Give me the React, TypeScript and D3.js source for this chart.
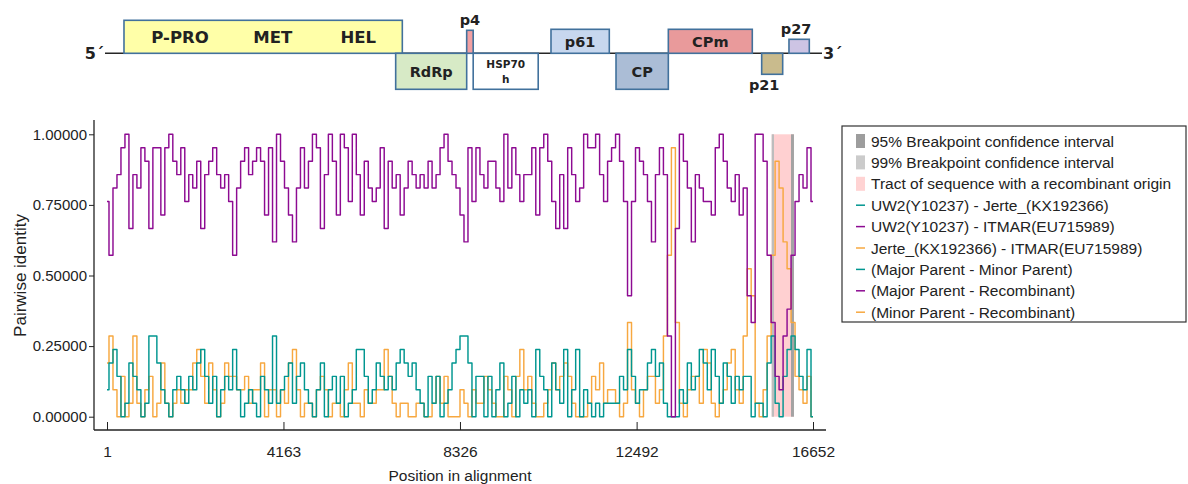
import React, {useEffect, useRef} from 'react';
import * as d3 from 'd3';

// identity values are read as k / windowSize (21 nt windows)
const windowSize = 21;
const alignmentStart = 1;
const alignmentEnd = 16652;
const xTicks = [1, 4163, 8326, 12492, 16652];
const yTicks = [0, 0.25, 0.5, 0.75, 1];

// UW2(Y10237) - Jerte_(KX192366)
const uw2Jerte = [
  2, 4, 5, 3, 0, 1, 4, 3, 2, 0,
  1, 6, 6, 4, 2, 1, 0, 2, 3, 2,
  1, 3, 2, 4, 5, 3, 1, 3, 0, 2,
  3, 2, 5, 2, 0, 1, 2, 1, 0, 3,
  2, 1, 6,
  1, 2, 3, 4, 1, 3, 4, 2, 1, 0,
  2, 4, 0, 2, 3, 1, 3, 0, 1, 2,
  5, 5, 3, 1, 2, 4, 3, 2, 3, 2,
  4, 5, 4, 3, 4, 2, 1, 0, 3, 1, 3, 0,
  1, 2, 4, 5, 6, 6, 4, 0, 3, 3,
  0, 3, 0, 2, 4, 0, 1, 3, 0, 2,
  1, 2, 0, 5, 3, 2, 0, 4, 2, 1,
  5, 0, 2, 5, 0, 2, 1, 0, 1, 0, 1, 1, 1,
  1, 3, 2, 5, 3, 1, 2, 2, 4, 5,
  3, 4, 1, 0, 0, 0, 2, 1, 4, 2,
  3, 5, 4, 2, 5, 3, 1, 4, 3, 1,
  3, 2, 3, 3, 0, 1, 1, 0, 4, 6,
  1, 0, 3, 5, 6, 5, 3, 2, 5, 0,
];

// UW2(Y10237) - ITMAR(EU715989)
const uw2Itmar = [
  16, 12, 17, 18, 20, 21, 14, 18, 17, 20,
  19, 14, 20, 20, 15, 20, 21, 19, 18, 20,
  16, 18, 17, 19, 14, 18, 19, 20, 18, 17,
  18, 16, 12, 17, 19, 20, 18, 19, 20, 19,
  15, 20, 13,
  21, 19, 17, 15, 13, 17, 20, 17, 19, 21,
  20, 14, 18, 21, 19, 15, 21, 20, 16, 21,
  18, 15, 19, 17, 16, 17, 20, 14, 19, 17,
  18, 15, 17, 19, 18, 17, 18, 17, 19, 17, 18, 20,
  21, 19, 18, 17, 15, 13, 20, 16, 20, 18,
  17, 19, 19, 17, 16, 21, 17, 20, 18, 16,
  18, 18, 20, 15, 20, 21, 19, 16, 14, 18,
  14, 20, 18, 16, 17, 21, 20, 20, 21, 18, 16, 19, 20,
  21, 19, 16, 9, 16, 20, 19, 18, 16, 13,
  18, 20, 18, 6, 0, 14, 21, 19, 17, 13,
  18, 17, 16, 16, 15, 20, 21, 19, 17, 16,
  18, 15, 17, 9, 7, 21, 21, 19, 12, 7,
  3, 2, 6, 8, 12, 16, 18, 17, 20, 16,
];

// Jerte_(KX192366) - ITMAR(EU715989)
const jerteItmar = [
  4, 6, 2, 0, 3, 0, 1, 6, 1, 0,
  2, 3, 0, 1, 4, 1, 0, 1, 2, 1,
  2, 2, 4, 5, 3, 1, 4, 2, 0, 1,
  4, 3, 3, 2, 2, 3, 1, 2, 2, 4,
  0, 2, 2,
  0, 2, 1, 4, 5, 2, 0, 1, 1, 0,
  2, 3, 2, 0, 1, 1, 0, 2, 4, 1,
  1, 0, 2, 1, 1, 2, 2, 5, 3, 1,
  0, 1, 1, 0, 0, 1, 1, 0, 0, 1, 3, 1,
  3, 0, 0, 0, 2, 1, 0, 2, 1, 1,
  3, 2, 1, 0, 0, 3, 2, 0, 3, 5,
  2, 3, 1, 0, 0, 1, 2, 4, 2, 3,
  4, 3, 1, 0, 0, 0, 1, 3, 2, 4, 1, 2, 2,
  1, 0, 1, 7, 2, 1, 0, 2, 3, 3,
  1, 2, 6, 12, 20, 7, 1, 0, 2, 3,
  3, 1, 5, 4, 1, 0, 1, 2, 4, 5,
  2, 1, 6, 11, 9, 1, 0, 2, 6, 12,
  19, 17, 13, 11, 7, 3, 2, 1, 3, 0,
];

// recombination event
const tract = [15678, 16203];
const ci99 = [15678, 15732];
const ci95 = [16133, 16203];

// genome map (approximate nt coordinates)
const genes = [
  {name: 'ORF1a', start: 441, end: 6905, side: 'up'},
  {name: 'RdRp', start: 6751, end: 8400, side: 'down'},
  {name: 'p4', start: 8400, end: 8551, side: 'up'},
  {name: 'HSP70h', start: 8551, end: 10061, side: 'down'},
  {name: 'p61', start: 10358, end: 11712, side: 'up'},
  {name: 'CP', start: 11868, end: 13083, side: 'down'},
  {name: 'CPm', start: 13083, end: 15033, side: 'up'},
  {name: 'p21', start: 15251, end: 15739, side: 'down'},
  {name: 'p27', start: 15885, end: 16357, side: 'up'},
];
const domainLabels = [
  {name: 'P-PRO', pos: 1742},
  {name: 'MET', pos: 3895},
  {name: 'HEL', pos: 5883},
];

const geneStyle: any = {
  ORF1a: {fill: '#ffffa8', h: 33, label: []},
  RdRp: {fill: '#d7eac6', h: 36, label: ['RdRp'], where: 'in', fs: 14.5},
  p4: {fill: '#f2a0a2', h: 23, label: ['p4'], where: 'above', fs: 14.5},
  HSP70h: {fill: '#ffffff', h: 36, label: ['HSP70', 'h'], where: 'in', fs: 10.5},
  p61: {fill: '#c7d7ee', h: 24, label: ['p61'], where: 'in', fs: 14.5},
  CP: {fill: '#abbdd6', h: 36, label: ['CP'], where: 'in', fs: 14.5},
  CPm: {fill: '#e99a9b', h: 24, label: ['CPm'], where: 'in', fs: 14.5},
  p21: {fill: '#c9bb8d', h: 21, label: ['p21'], where: 'below', fs: 14.5, dx: -8},
  p27: {fill: '#cdc4e4', h: 14, label: ['p27'], where: 'above', fs: 14.5, dx: -3},
};

const legendItems = [
  {label: '95% Breakpoint confidence interval', kind: 'box', color: '#9d9d9d'},
  {label: '99% Breakpoint confidence interval', kind: 'box', color: '#cbcbcb'},
  {label: 'Tract of sequence with a recombinant origin', kind: 'box', color: '#ffd3d3'},
  {label: 'UW2(Y10237) - Jerte_(KX192366)', kind: 'line', color: '#009690'},
  {label: 'UW2(Y10237) - ITMAR(EU715989)', kind: 'line', color: '#8d0b92'},
  {label: 'Jerte_(KX192366) - ITMAR(EU715989)', kind: 'line', color: '#f7a840'},
  {label: '(Major Parent - Minor Parent)', kind: 'line', color: '#009690'},
  {label: '(Major Parent - Recombinant)', kind: 'line', color: '#8d0b92'},
  {label: '(Minor Parent - Recombinant)', kind: 'line', color: '#f7a840'},
];

const FONT = '"Liberation Sans", Arial, sans-serif';
const MAPFONT = '"DejaVu Sans", Verdana, sans-serif';

function drawFigure(el: SVGSVGElement) {
  const svg = d3.select(el);
  svg.selectAll('*').remove();
  svg.append('rect').attr('width', 1188).attr('height', 484).attr('fill', '#fff');

  // ---- genome map ----
  const map = svg.append('g');
  const mx = d3.scaleLinear().domain([0, alignmentEnd]).range([105, 822]);
  const baseY = 53.3;
  map.append('line')
      .attr('x1', mx(0)).attr('x2', mx(alignmentEnd))
      .attr('y1', baseY).attr('y2', baseY)
      .attr('stroke', '#262626').attr('stroke-width', 1.6);

  genes.forEach((g) => {
    const st = geneStyle[g.name];
    const x0 = mx(g.start);
    const w = mx(g.end) - mx(g.start);
    const y0 = g.side === 'up' ? baseY - st.h : baseY;
    map.append('rect')
        .attr('x', x0).attr('y', y0)
        .attr('width', w).attr('height', st.h)
        .attr('fill', st.fill)
        .attr('stroke', '#41719c').attr('stroke-width', 1.6);

    const cx = x0 + w / 2 + (st.dx || 0);
    st.label.forEach((t: string, i: number) => {
      let ty = 0;
      if (st.where === 'in') {
        ty = st.label.length > 1 ?
          y0 + 15 + i * 15 :
          y0 + st.h / 2 + st.fs * 0.37;
      } else if (st.where === 'above') {
        ty = y0 - 5;
      } else {
        ty = y0 + st.h + 16;
      }
      map.append('text')
          .attr('x', cx).attr('y', ty)
          .attr('text-anchor', 'middle')
          .style('font-family', MAPFONT)
          .style('font-weight', 'bold')
          .style('font-size', st.fs + 'px')
          .attr('fill', '#222')
          .text(t);
    });
  });

  map.selectAll('.domain-label')
      .data(domainLabels)
      .join('text')
      .attr('class', 'domain-label')
      .attr('x', (d) => mx(d.pos))
      .attr('y', 43)
      .attr('text-anchor', 'middle')
      .style('font-family', MAPFONT)
      .style('font-weight', 'bold')
      .style('font-size', '16.5px')
      .attr('fill', '#222')
      .text((d) => d.name);

  map.append('text')
      .attr('x', mx(0) - 1).attr('y', 59)
      .attr('text-anchor', 'end')
      .style('font-family', MAPFONT).style('font-weight', 'bold')
      .style('font-size', '16px').attr('fill', '#222')
      .text('5\u00b4');
  map.append('text')
      .attr('x', mx(alignmentEnd) + 1).attr('y', 59)
      .style('font-family', MAPFONT).style('font-weight', 'bold')
      .style('font-size', '16px').attr('fill', '#222')
      .text('3\u00b4');

  // ---- plot ----
  const x = d3.scaleLinear().domain([alignmentStart, alignmentEnd]).range([107, 813]);
  const y = d3.scaleLinear().domain([0, 1]).range([416.7, 134.3]);
  const axisLeftX = 94;
  const axisBottomY = 430;

  const n = uw2Itmar.length;
  const pos = (i: number) =>
    alignmentStart + i * (alignmentEnd - alignmentStart) / (n - 1);

  const plot = svg.append('g');

  plot.append('rect')
      .attr('x', x(tract[0])).attr('width', x(tract[1]) - x(tract[0]))
      .attr('y', y(1)).attr('height', y(0) - y(1))
      .attr('fill', '#ffd0d1');
  plot.append('rect')
      .attr('x', x(ci99[0])).attr('width', x(ci99[1]) - x(ci99[0]))
      .attr('y', y(1)).attr('height', y(0) - y(1))
      .attr('fill', '#bdbdbd');
  plot.append('rect')
      .attr('x', x(ci95[0])).attr('width', x(ci95[1]) - x(ci95[0]))
      .attr('y', y(1)).attr('height', y(0) - y(1))
      .attr('fill', '#a3a3a3');

  const line = d3.line<number>()
      .x((d, i) => x(pos(i)))
      .y((d) => y(d / windowSize))
      .curve(d3.curveStep);

  const series = [
    {values: jerteItmar, color: '#f7a840'},
    {values: uw2Jerte, color: '#009690'},
    {values: uw2Itmar, color: '#8d0b92'},
  ];
  series.forEach((s) => {
    plot.append('path')
        .attr('d', line(s.values))
        .attr('fill', 'none')
        .attr('stroke', s.color)
        .attr('stroke-width', 1.45)
        .attr('stroke-linejoin', 'round');
  });

  // axes
  const yAxis = svg.append('g')
      .attr('transform', `translate(${axisLeftX},0)`)
      .call(d3.axisLeft(y).tickValues(yTicks)
          .tickFormat(d3.format('.5f')).tickSize(5).tickPadding(2));
  yAxis.select('.domain').remove();
  yAxis.selectAll('line').attr('stroke', '#222');
  yAxis.selectAll('text')
      .style('font-family', FONT).style('font-size', '15px').attr('fill', '#222');

  const xAxis = svg.append('g')
      .attr('transform', `translate(0,${axisBottomY})`)
      .call(d3.axisBottom(x).tickValues(xTicks)
          .tickFormat(d3.format('d')).tickSize(-8).tickPadding(16));
  xAxis.select('.domain').remove();
  xAxis.selectAll('line').attr('stroke', '#222');
  xAxis.selectAll('text')
      .style('font-family', FONT).style('font-size', '15.5px').attr('fill', '#222');

  svg.append('line')
      .attr('x1', axisLeftX).attr('x2', axisLeftX)
      .attr('y1', 120).attr('y2', axisBottomY)
      .attr('stroke', '#222').attr('stroke-width', 1.3);
  svg.append('line')
      .attr('x1', axisLeftX).attr('x2', 826)
      .attr('y1', axisBottomY).attr('y2', axisBottomY)
      .attr('stroke', '#222').attr('stroke-width', 1.3);

  svg.append('text')
      .attr('x', (x.range()[0] + x.range()[1]) / 2).attr('y', 481)
      .attr('text-anchor', 'middle')
      .style('font-family', FONT).style('font-size', '15.5px').attr('fill', '#222')
      .text('Position in alignment');
  svg.append('text')
      .attr('transform', `translate(26,${(y(0) + y(1)) / 2}) rotate(-90)`)
      .attr('text-anchor', 'middle')
      .style('font-family', FONT).style('font-size', '17px').attr('fill', '#222')
      .text('Pairwise identity');

  // legend
  const lg = svg.append('g');
  lg.append('rect')
      .attr('x', 842).attr('y', 126).attr('width', 344).attr('height', 196)
      .attr('fill', '#fff').attr('stroke', '#333').attr('stroke-width', 1.2);
  legendItems.forEach((it, i) => {
    const cy = 141 + i * 21.4;
    if (it.kind === 'box') {
      lg.append('rect')
          .attr('x', 856).attr('y', cy - 7).attr('width', 9).attr('height', 14)
          .attr('fill', it.color);
    } else {
      lg.append('line')
          .attr('x1', 856).attr('x2', 865).attr('y1', cy).attr('y2', cy)
          .attr('stroke', it.color).attr('stroke-width', 1.5);
    }
    lg.append('text')
        .attr('x', 871).attr('y', cy + 5.5)
        .style('font-family', FONT).style('font-size', '15.5px').attr('fill', '#222')
        .text(it.label);
  });
}

export default function App() {
  const ref = useRef<SVGSVGElement>(null);
  useEffect(() => {
    document.body.style.margin = '0';
    if (ref.current) drawFigure(ref.current);
  }, []);
  return (
    <svg ref={ref} width={1188} height={484} style={{display: 'block'}} />
  );
}
